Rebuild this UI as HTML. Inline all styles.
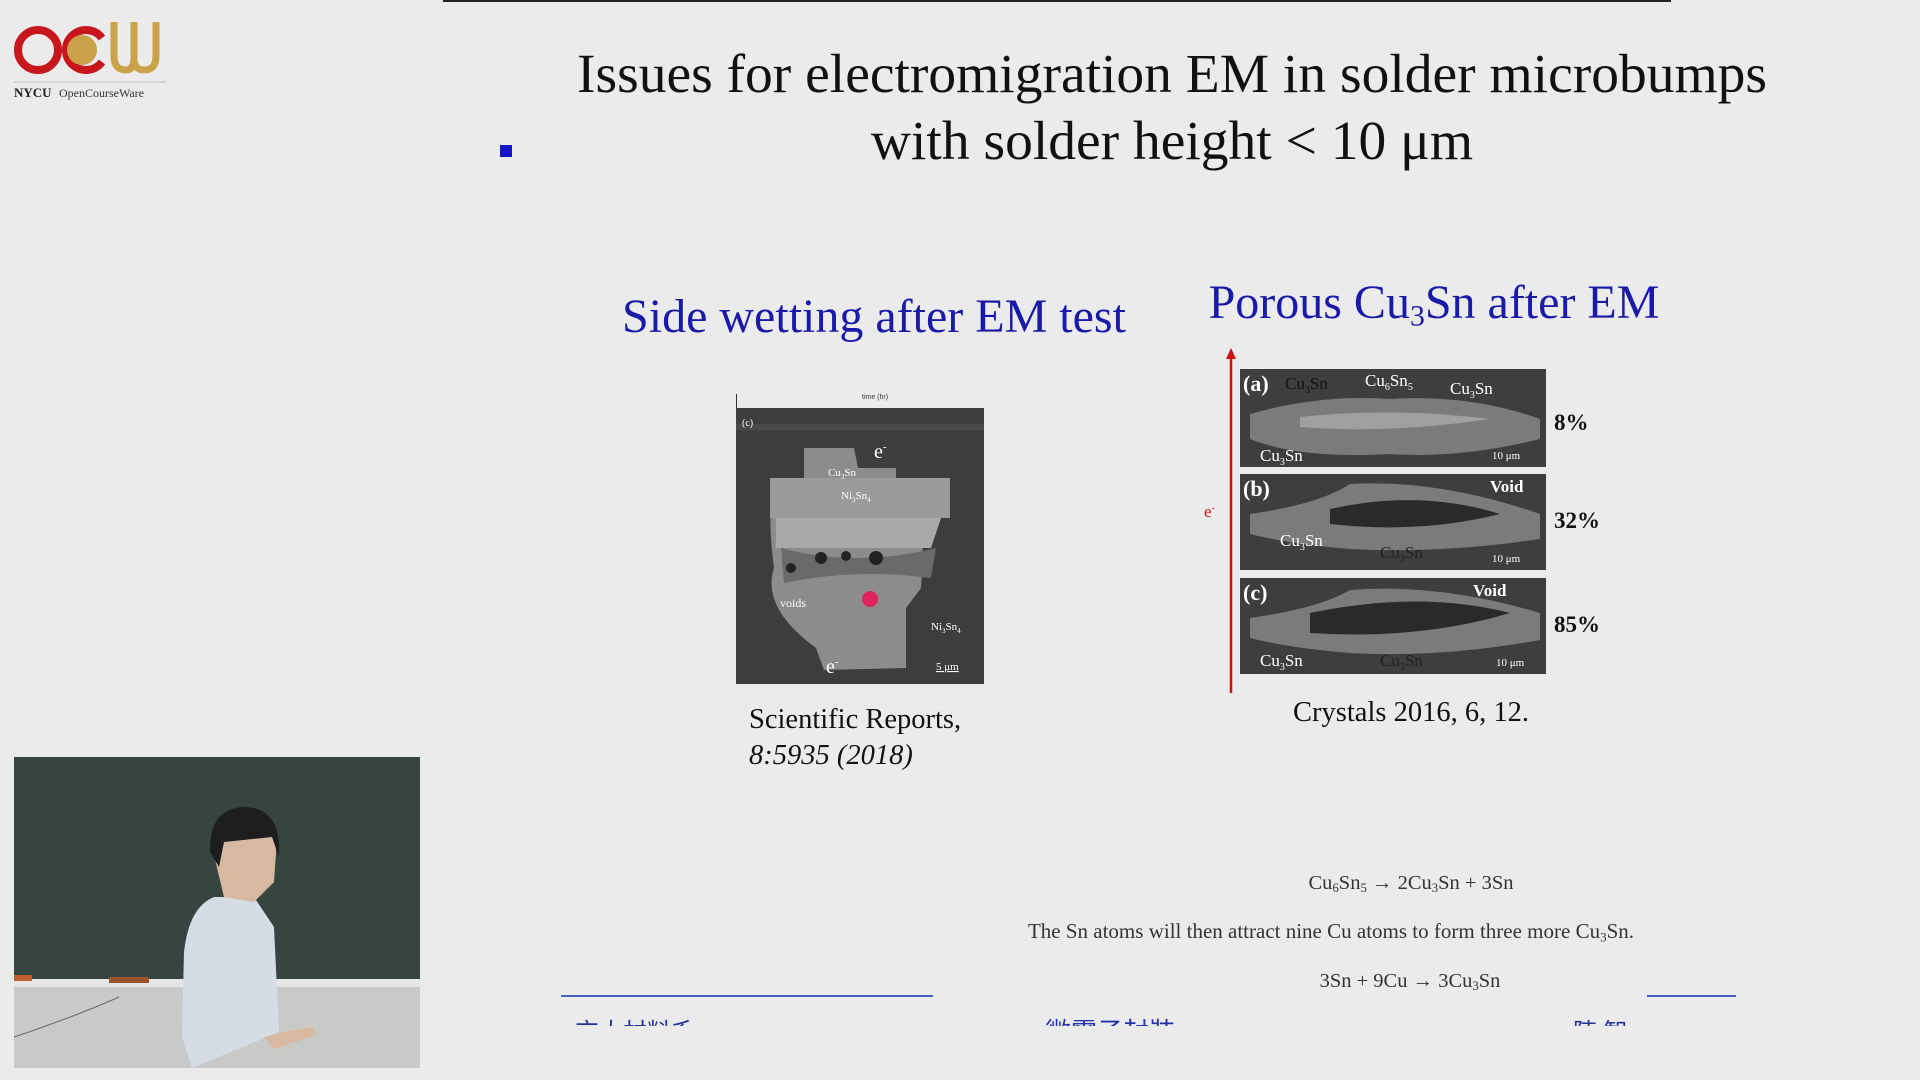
<!DOCTYPE html>
<html><head><meta charset="utf-8"><style>
body{margin:0;width:1920px;height:1080px;background:#ebebeb;position:relative;overflow:hidden;font-family:"Liberation Serif","Noto Serif CJK SC",serif;}
.a{position:absolute;white-space:nowrap;}
.c{transform:translateX(-50%);}
sub{font-size:62%;vertical-align:-0.25em;line-height:0}
</style></head><body>
<div class="a" style="left:443px;top:0;width:1228px;height:2px;background:#222"></div>

<svg class="a" style="left:14px;top:18px" width="156" height="82" viewBox="0 0 156 82">
<circle cx="24" cy="32" r="20" fill="none" stroke="#c8161d" stroke-width="8"/>
<path d="M88 20 A20 20 0 1 0 88 44" fill="none" stroke="#c8161d" stroke-width="8"/>
<circle cx="68" cy="32" r="15" fill="#c9a24a"/>
<path d="M100 4 V38 Q100 52 112 52 Q120 52 120 40 V4 M120 40 Q120 52 130 52 Q142 52 142 38 V4" fill="none" stroke="#c9a24a" stroke-width="7"/>
<line x1="0" y1="64" x2="152" y2="64" stroke="#bbb" stroke-width="1"/>
<text x="0" y="79" font-family="Liberation Serif" font-size="13" font-weight="bold" fill="#222">NYCU</text>
<text x="45" y="79" font-family="Liberation Serif" font-size="12" fill="#333">OpenCourseWare</text>
</svg>

<div class="a" style="left:500px;top:145px;width:12px;height:12px;background:#1515c8"></div>
<div class="a c" style="left:1172px;top:41px;font-size:55.5px;line-height:67px;text-align:center;color:#111">Issues for electromigration EM in solder microbumps<br>with solder height &lt; 10 μm</div>

<div class="a c" style="left:874px;top:289px;font-size:48px;color:#1a1aa8">Side wetting after EM test</div>
<div class="a c" style="left:1434px;top:275px;font-size:48px;color:#1a1aa8">Porous Cu<sub>3</sub>Sn after EM</div>

<!-- left micrograph -->
<div class="a" style="left:736px;top:394px;width:1px;height:14px;background:#333"></div>
<div class="a" style="left:862px;top:394px;font-size:7px;font-family:'Liberation Sans',sans-serif;color:#333">time (hr)</div>
<svg class="a" style="left:736px;top:408px" width="248" height="276" viewBox="0 0 248 276">
<rect width="248" height="276" fill="#3d3d3d"/>
<rect y="16" width="248" height="6" fill="#4a4a4a"/>
<path d="M68 40 H118 L122 60 L160 60 V90 L180 92 Q190 120 185 180 L170 200 V260 L88 262 L80 240 Q25 200 38 160 Q30 100 40 72 L68 70 Z" fill="#8c8c8c"/>
<rect x="34" y="70" width="180" height="40" fill="#9b9b9b"/>
<path d="M40 110 H205 L195 140 L40 140 Z" fill="#a9a9a9"/>
<path d="M45 140 Q120 160 200 140 L195 170 Q120 160 48 175 Z" fill="#6a6a6a"/>
<circle cx="85" cy="150" r="6" fill="#222"/><circle cx="110" cy="148" r="5" fill="#222"/><circle cx="140" cy="150" r="7" fill="#222"/><circle cx="55" cy="160" r="5" fill="#222"/>
<circle cx="134" cy="191" r="8" fill="#e0245e"/>
<text x="6" y="18" font-size="10" fill="#fff">(c)</text>
<text x="138" y="50" font-size="20" fill="#fff">e<tspan font-size="11" dy="-8">-</tspan></text>
<text x="92" y="68" font-size="11" fill="#fff">Cu<tspan font-size="7" dy="3">3</tspan><tspan dy="-3">Sn</tspan></text>
<text x="105" y="91" font-size="11" fill="#fff">Ni<tspan font-size="7" dy="3">3</tspan><tspan dy="-3">Sn</tspan><tspan font-size="7" dy="3">4</tspan></text>
<text x="44" y="199" font-size="12" fill="#fff">voids</text>
<text x="195" y="222" font-size="11" fill="#fff">Ni<tspan font-size="7" dy="3">3</tspan><tspan dy="-3">Sn</tspan><tspan font-size="7" dy="3">4</tspan></text>
<text x="90" y="265" font-size="20" fill="#fff">e<tspan font-size="11" dy="-8">-</tspan></text>
<text x="200" y="262" font-size="11" fill="#fff" text-decoration="underline">5 μm</text>
</svg>
<div class="a" style="left:749px;top:702px;font-size:28.5px;line-height:36px;color:#111">Scientific Reports,<br><i>8:5935 (2018)</i></div>

<!-- right panels -->
<svg class="a" style="left:1200px;top:345px" width="40" height="350">
<line x1="31" y1="10" x2="31" y2="348" stroke="#d01010" stroke-width="2.5"/>
<path d="M26 14 L31 3 L36 14 Z" fill="#d01010"/>
<text x="4" y="172" font-size="17" fill="#d01010">e<tspan font-size="10" dy="-6">-</tspan></text>
</svg>
<svg class="a" style="left:1240px;top:369px" width="306" height="305" viewBox="0 0 306 305">
<g>
<rect width="306" height="98" fill="#3e3e3e"/>
<path d="M10 45 Q80 25 150 30 Q230 25 300 50 L300 70 Q220 90 150 85 Q60 90 10 70 Z" fill="#7b7b7b"/>
<path d="M60 48 Q150 38 250 50 Q150 65 60 58 Z" fill="#a0a0a0"/>
<text x="3" y="22" font-size="22" font-weight="bold" fill="#fff">(a)</text>
<text x="45" y="20" font-size="17" fill="#111">Cu<tspan font-size="10" dy="4">3</tspan><tspan dy="-4">Sn</tspan></text>
<text x="125" y="17" font-size="17" fill="#fff">Cu<tspan font-size="10" dy="4">6</tspan><tspan dy="-4">Sn</tspan><tspan font-size="10" dy="4">5</tspan></text>
<text x="210" y="25" font-size="17" fill="#fff">Cu<tspan font-size="10" dy="4">3</tspan><tspan dy="-4">Sn</tspan></text>
<text x="20" y="92" font-size="17" fill="#fff">Cu<tspan font-size="10" dy="4">3</tspan><tspan dy="-4">Sn</tspan></text>
<text x="252" y="90" font-size="11" fill="#fff">10 μm</text>
</g>
<g transform="translate(0,105)">
<rect width="306" height="96" fill="#3e3e3e"/>
<path d="M10 40 Q80 30 110 10 Q200 5 300 40 L300 65 Q200 80 110 75 Q50 70 10 60 Z" fill="#7b7b7b"/>
<path d="M90 35 Q180 15 260 40 Q180 60 90 50 Z" fill="#2a2a2a"/>
<text x="3" y="22" font-size="22" font-weight="bold" fill="#fff">(b)</text>
<text x="250" y="18" font-size="17" font-weight="bold" fill="#fff">Void</text>
<text x="40" y="72" font-size="17" fill="#fff">Cu<tspan font-size="10" dy="4">3</tspan><tspan dy="-4">Sn</tspan></text>
<text x="140" y="84" font-size="17" fill="#222">Cu<tspan font-size="10" dy="4">3</tspan><tspan dy="-4">Sn</tspan></text>
<text x="252" y="88" font-size="11" fill="#fff">10 μm</text>
</g>
<g transform="translate(0,209)">
<rect width="306" height="96" fill="#3e3e3e"/>
<path d="M10 40 Q80 30 110 12 Q200 5 300 35 L300 62 Q200 80 110 75 Q50 70 10 60 Z" fill="#7b7b7b"/>
<path d="M70 35 Q180 12 270 35 Q180 62 70 55 Z" fill="#2a2a2a"/>
<text x="3" y="22" font-size="22" font-weight="bold" fill="#fff">(c)</text>
<text x="233" y="18" font-size="17" font-weight="bold" fill="#fff">Void</text>
<text x="20" y="88" font-size="17" fill="#fff">Cu<tspan font-size="10" dy="4">3</tspan><tspan dy="-4">Sn</tspan></text>
<text x="140" y="88" font-size="17" fill="#222">Cu<tspan font-size="10" dy="4">3</tspan><tspan dy="-4">Sn</tspan></text>
<text x="256" y="88" font-size="11" fill="#fff">10 μm</text>
</g>
</svg>
<div class="a" style="left:1554px;top:410px;font-size:23px;font-weight:bold;color:#111">8%</div>
<div class="a" style="left:1554px;top:508px;font-size:23px;font-weight:bold;color:#111">32%</div>
<div class="a" style="left:1554px;top:612px;font-size:23px;font-weight:bold;color:#111">85%</div>
<div class="a c" style="left:1411px;top:697px;font-size:28.5px;color:#111">Crystals 2016, 6, 12.</div>

<div class="a c" style="left:1411px;top:872px;font-size:20.5px;color:#333">Cu<sub>6</sub>Sn<sub>5</sub> → 2Cu<sub>3</sub>Sn + 3Sn</div>
<div class="a c" style="left:1331px;top:919px;font-size:21px;color:#333">The Sn atoms will then attract nine Cu atoms to form three more Cu<sub>3</sub>Sn.</div>
<div class="a c" style="left:1410px;top:970px;font-size:20.5px;color:#333">3Sn + 9Cu → 3Cu<sub>3</sub>Sn</div>

<div class="a" style="left:561px;top:995px;width:372px;height:2px;background:#4466c0"></div>
<div class="a" style="left:1647px;top:995px;width:89px;height:2px;background:#4466c0"></div>
<div class="a" style="left:0;top:1012px;width:1920px;height:14px;overflow:hidden">
<div class="a" style="left:575px;top:0;font-size:24px;color:#223399;font-family:'Liberation Sans','Noto Sans CJK TC',sans-serif">交大材料系</div>
<div class="a" style="left:1045px;top:0;font-size:26px;color:#2233aa;font-family:'Liberation Sans','Noto Sans CJK TC',sans-serif">微電子封裝</div>
<div class="a" style="left:1573px;top:0;font-size:24px;color:#223399;font-family:'Liberation Sans','Noto Sans CJK TC',sans-serif">陳 智</div>
</div>

<svg class="a" style="left:14px;top:757px" width="406" height="311" viewBox="0 0 406 311">
<rect width="406" height="311" fill="#c9c9c7"/>
<rect width="406" height="225" fill="#36453f"/>
<rect y="222" width="406" height="8" fill="#e6e6e4"/>
<rect x="0" y="218" width="18" height="6" fill="#c06030"/><rect x="95" y="220" width="40" height="6" fill="#9a5530"/>
<path d="M0 280 Q60 260 105 240" stroke="#666" fill="none"/>
<path d="M168 280 L170 195 Q175 150 200 140 L240 140 L260 170 L265 275 L178 311 Z" fill="#d6dce6"/>
<path d="M198 90 Q200 55 230 52 Q262 55 262 95 L260 125 L240 145 L210 140 Z" fill="#d7b8a0"/>
<path d="M196 95 Q195 50 232 50 Q268 52 265 100 L258 80 L210 85 L205 110 Z" fill="#1e1e1e"/>
<path d="M250 280 Q280 272 300 270 L302 278 L260 292 Z" fill="#d7b8a0"/>
</svg>
</body></html>
